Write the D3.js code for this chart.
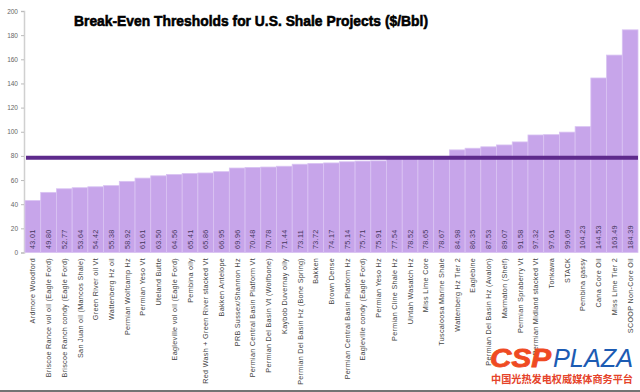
<!DOCTYPE html>
<html><head><meta charset="utf-8">
<script src="https://cdn.jsdelivr.net/npm/d3@7"></script>
<style>
html,body{margin:0;padding:0;background:#fff;}
svg{display:block;}
</style></head>
<body>
<svg id="c" width="640" height="392"></svg>
<script>
const categories = [
 "Ardmore Woodford","Briscoe Rance vol oil (Eagle Ford)","Briscoe Ranch condy (Eagle Ford)","San Juan oil (Mancos Shale)",
 "Green River oil Vt","Wattenberg Hz oil","Permian Wolfcamp Hz","Permian Yeso Vt","Uteland Butte",
 "Eagleville vol oil (Eagle Ford)","Pembina oily","Red Wash + Green River stacked Vt","Bakken Antelope",
 "PRB Sussex/Shannon Hz","Permian Central Basin Platform Vt","Permian Del Basin Vt (Wolfbone)","Kaybob Duvernay oily",
 "Permian Del Basin Hz (Bone Spring)","Bakken","Brown Dense","Permian Central Basin Platform Hz",
 "Eagleville condy (Eagle Ford)","Permian Yeso Hz","Permian Cline Shale Hz","Uintah Wasatch Hz","Miss Lime Core",
 "Tuscaloosa Marine Shale","Wattenberg Hz Tier 2","Eaglebine","Permian Del Basin Hz (Avalon)","Marmaton (Shelf)",
 "Permian Spraberry Vt","Permian Midland stacked Vt","Tonkawa","STACK","Pembina gassy","Cana Core Oil",
 "Miss Lime Tier 2","SCOOP Non-Core Oil"
];
const values = [
 43.01,49.80,52.77,53.64,54.42,55.38,58.92,61.61,63.50,64.56,65.41,65.86,66.95,69.96,70.48,70.78,71.44,
 73.11,73.72,74.17,75.14,75.71,75.91,77.54,78.52,78.65,78.67,84.98,86.35,87.53,89.07,91.58,97.32,97.61,
 99.69,104.23,144.53,163.49,184.39
];
const valueLabels = [
 "43.01","49.80","52.77","53.64","54.42","55.38","58.92","61.61","63.50","64.56","65.41","65.86","66.95",
 "69.96","70.48","70.78","71.44","73.11","73.72","74.17","75.14","75.71","75.91","77.54","78.52","78.65",
 "78.67","84.98","86.35","87.53","89.07","91.58","97.32","97.61","99.69","104.23","144.53","163.49","184.39"
];
const yTicks = [0,20,40,60,80,100,120,140,160,180,200];
const threshold = [78.5];
const title = "Break-Even Thresholds for U.S. Shale Projects ($/Bbl)";

const svg = d3.select("#c");
const x = d3.scaleBand().domain(categories).range([25, 638]).padding(0);
const y = d3.scaleLinear().domain([0, 200]).range([252.5, 11]);

// y axis
const yAxis = d3.axisLeft(y).tickValues(yTicks).tickSize(3).tickPadding(3);
const ga = svg.append("g").attr("transform", "translate(24,0)").call(yAxis);
ga.select(".domain").attr("stroke", "#d0d0d0").attr("stroke-width", 1.5);
ga.selectAll(".tick line").attr("stroke", "#bbb");
ga.selectAll(".tick text").attr("fill", "#666").style("font-family", "Liberation Sans, Arial, sans-serif").style("font-size", "6.5px");

// bars
svg.append("g").selectAll("rect").data(values).join("rect")
  .attr("x", (d, i) => x(categories[i]))
  .attr("y", d => y(d))
  .attr("width", x.bandwidth())
  .attr("height", d => y(0) - y(d))
  .attr("fill", "#c7a5ea")
  .attr("stroke", "#d9c3f2")
  .attr("stroke-width", 0.8);

// threshold line
svg.append("g").selectAll("line").data(threshold).join("line")
  .attr("x1", x.range()[0] + 1).attr("x2", x.range()[1])
  .attr("y1", d => y(d)).attr("y2", d => y(d))
  .attr("stroke", "#5e2a8c").attr("stroke-width", 4);

// value labels
svg.append("g").selectAll("text").data(valueLabels).join("text")
  .attr("transform", (d, i) => `translate(${x(categories[i]) + x.bandwidth() / 2 + 2.5},249) rotate(-90)`)
  .attr("text-anchor", "start")
  .attr("fill", "#45355c")
  .style("font-family", "Liberation Sans, Arial, sans-serif")
  .style("font-size", "7.2px")
  .style("letter-spacing", "0.3px")
  .text(d => d);

// category labels
svg.append("g").selectAll("text").data(categories).join("text")
  .attr("transform", d => `translate(${x(d) + x.bandwidth() / 2 + 2.5},258) rotate(-90)`)
  .attr("text-anchor", "end")
  .attr("fill", "#444")
  .style("font-family", "Liberation Sans, Arial, sans-serif")
  .style("font-size", "7.2px")
  .style("letter-spacing", "0.3px")
  .text(d => d);

// title
svg.append("text")
  .attr("x", 74).attr("y", 25.5)
  .attr("textLength", 354).attr("lengthAdjust", "spacingAndGlyphs")
  .attr("fill", "#000")
  .attr("stroke", "#000").attr("stroke-width", 0.6)
  .style("font-family", "Liberation Sans, Arial, sans-serif")
  .style("font-weight", "bold")
  .style("font-size", "15.5px")
  .text(title);

// watermark
svg.append("text")
  .attr("x", 490).attr("y", 366.5)
  .attr("textLength", 61).attr("lengthAdjust", "spacingAndGlyphs")
  .attr("fill", "#ef4a22")
  .attr("stroke", "#ef4a22").attr("stroke-width", 0.8)
  .style("font-family", "Liberation Sans, Arial, sans-serif")
  .style("font-weight", "bold").style("font-style", "italic")
  .style("font-size", "25px")
  .text("CSP");
svg.append("text")
  .attr("x", 553).attr("y", 366.5)
  .attr("textLength", 80).attr("lengthAdjust", "spacingAndGlyphs")
  .attr("fill", "#1c5bb3")
  .style("font-family", "Liberation Sans, Arial, sans-serif")
  .style("font-style", "italic")
  .style("font-size", "25px")
  .text("PLAZA");
svg.append("text")
  .attr("x", 491).attr("y", 382.5)
  .attr("textLength", 142).attr("lengthAdjust", "spacingAndGlyphs")
  .attr("fill", "#e5432a")
  .style("font-family", "Noto Sans CJK SC, sans-serif")
  .style("font-weight", "bold")
  .style("font-size", "10.5px")
  .text("中国光热发电权威媒体商务平台");

// bottom border line
svg.append("line").attr("x1", 0).attr("x2", 640).attr("y1", 391).attr("y2", 391)
  .attr("stroke", "#444").attr("stroke-width", 1.5);
</script>
</body></html>
